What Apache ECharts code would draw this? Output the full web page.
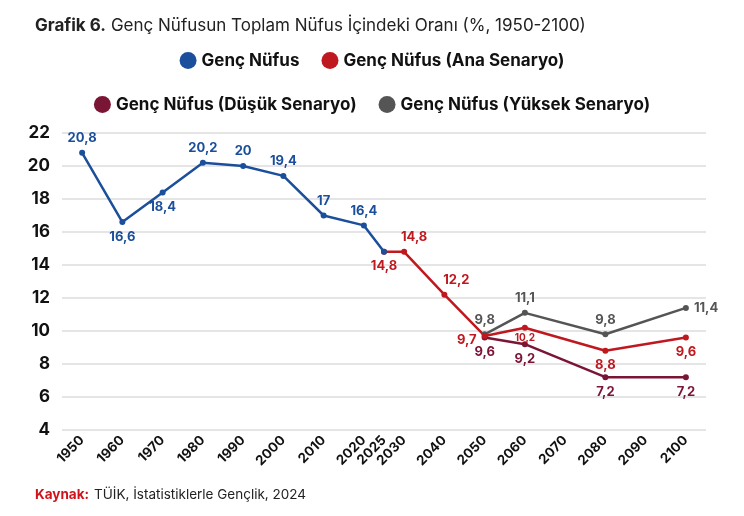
<!DOCTYPE html>
<html>
<head>
<meta charset="utf-8">
<script src="https://cdn.jsdelivr.net/npm/echarts@6/dist/echarts.min.js"></script>
<style>
html,body{margin:0;padding:0;background:#fff;}
#chart{width:744px;height:516px;}
</style>
</head>
<body>
<div id="chart"></div>
<script>
// yıllar ve değerler
var tickYears = [1950, 1960, 1970, 1980, 1990, 2000, 2010, 2020, 2025, 2030, 2040, 2050, 2060, 2070, 2080, 2090, 2100];

var gencYears = [1950, 1960, 1970, 1980, 1990, 2000, 2010, 2020, 2025];
var gencValues = [20.8, 16.6, 18.4, 20.2, 20, 19.4, 17, 16.4, 14.8];

var anaYears = [2025, 2030, 2040, 2050, 2060, 2080, 2100];
var anaValues = [14.8, 14.8, 12.2, 9.7, 10.2, 8.8, 9.6];

var dusukYears = [2050, 2060, 2080, 2100];
var dusukValues = [9.6, 9.2, 7.2, 7.2];

var yuksekYears = [2050, 2060, 2080, 2100];
var yuksekValues = [9.8, 11.1, 9.8, 11.4];

// etiket yerleşimi (stil)
var gencLabelPos = ['top', 'bottom', 'bottom', 'top', 'top', 'top', 'top', 'top', 'none'];
var anaLabelPos = ['bottom', 'top', 'top', 'left', 'bottom', 'bottom', 'bottom'];
var dusukLabelPos = ['bottom', 'bottom', 'bottom', 'bottom'];
var yuksekLabelPos = ['top', 'top', 'top', 'right'];

var FONT = 'Inter, "Open Sans", sans-serif';

function fmt(v) {
    return String(v).replace('.', ',');
}

function buildData(years, values, positions) {
    var arr = [];
    for (var i = 0; i < years.length; i++) {
        var item = { value: [years[i], values[i]] };
        if (positions[i] == 'none') {
            item.label = { show: false };
        } else {
            item.label = { show: true, position: positions[i] };
        }
        arr.push(item);
    }
    return arr;
}

function makeSeries(name, years, values, positions, color) {
    return {
        name: name,
        type: 'line',
        symbol: 'circle',
        symbolSize: 6,
        lineStyle: { width: 2.5, color: color },
        itemStyle: { color: color },
        data: buildData(years, values, positions),
        label: {
            show: true,
            color: color,
            fontFamily: FONT,
            fontWeight: 'bold',
            fontSize: 13,
            distance: 5,
            formatter: function (p) { return fmt(p.value[1]); }
        },
        z: 3
    };
}

var blue = '#1b4f9b';
var red = '#c0181f';
var maroon = '#7b1535';
var gray = '#555555';

var anaSeries = makeSeries('Genç Nüfus (Ana Senaryo)', anaYears, anaValues, anaLabelPos, red);
// 2060 etiketi küçük
anaSeries.data[4].label.fontSize = 10;
anaSeries.data[4].label.distance = 2;
anaSeries.data[1].label.offset = [10, 0];
anaSeries.data[2].label.offset = [12, 0];
anaSeries.data[3].label.offset = [0, 4];

var yuksekSeries = makeSeries('Genç Nüfus (Yüksek Senaryo)', yuksekYears, yuksekValues, yuksekLabelPos, gray);
var dusukSeries = makeSeries('Genç Nüfus (Düşük Senaryo)', dusukYears, dusukValues, dusukLabelPos, maroon);
var gencSeries = makeSeries('Genç Nüfus', gencYears, gencValues, gencLabelPos, blue);

var legendText = { fontFamily: FONT, fontWeight: 'bold', fontSize: 17, color: '#111' };

var chart = echarts.init(document.getElementById('chart'));
chart.setOption({
    backgroundColor: '#fff',
    title: [{
        left: 30,
        top: 12,
        text: '{b|Grafik 6.} {n|Genç Nüfusun Toplam Nüfus İçindeki Oranı (%, 1950-2100)}',
        textStyle: {
            rich: {
                b: { fontFamily: FONT, fontWeight: 'bold', fontSize: 17, color: '#222' },
                n: { fontFamily: FONT, fontWeight: 'normal', fontSize: 17, color: '#222' }
            }
        }
    }, {
        left: 30,
        top: 481,
        text: '{r|Kaynak:} {n|TÜİK, İstatistiklerle Gençlik, 2024}',
        textStyle: {
            rich: {
                r: { fontFamily: FONT, fontWeight: 'bold', fontSize: 13.5, color: '#d0121b' },
                n: { fontFamily: FONT, fontWeight: 'normal', fontSize: 13.5, color: '#222' }
            }
        }
    }],
    legend: [{
        data: ['Genç Nüfus', 'Genç Nüfus (Ana Senaryo)'],
        top: 47,
        left: 'center',
        icon: 'circle',
        itemWidth: 17,
        itemHeight: 17,
        itemGap: 22,
        textStyle: legendText
    }, {
        data: ['Genç Nüfus (Düşük Senaryo)', 'Genç Nüfus (Yüksek Senaryo)'],
        top: 91,
        left: 'center',
        icon: 'circle',
        itemWidth: 17,
        itemHeight: 17,
        itemGap: 22,
        textStyle: legendText
    }],
    grid: { left: 62, right: 38, top: 133, bottom: 86, containLabel: false },
    xAxis: {
        type: 'value',
        min: 1945,
        max: 2105,
        splitLine: { show: false },
        axisLine: { show: false },
        axisTick: { show: false },
        axisLabel: {
            customValues: tickYears,
            rotate: 45,
            hideOverlap: false,
            color: '#111',
            fontFamily: FONT,
            fontWeight: 'bold',
            fontSize: 13.5,
            margin: 8,
            formatter: function (v) { return String(v); }
        }
    },
    yAxis: {
        type: 'value',
        min: 4,
        max: 22,
        interval: 2,
        axisLine: { show: false },
        axisTick: { show: false },
        splitLine: { lineStyle: { color: '#dcdcdc', width: 1.5 } },
        axisLabel: {
            color: '#111',
            fontFamily: FONT,
            fontWeight: 'bold',
            fontSize: 17,
            margin: 12
        }
    },
    series: [yuksekSeries, dusukSeries, anaSeries, gencSeries]
});
</script>
</body>
</html>
